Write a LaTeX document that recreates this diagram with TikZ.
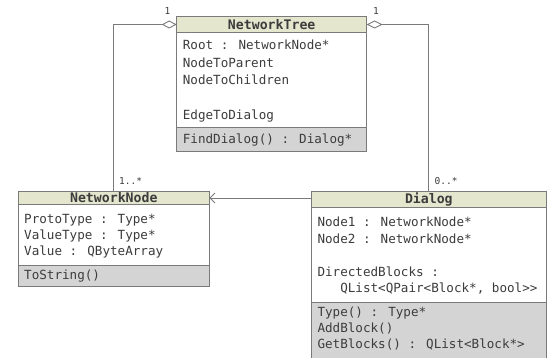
\documentclass[tikz,border=0pt]{standalone}
\usepackage{fontspec}
\newfontfamily\umlfont{DejaVu Sans Mono}
\usetikzlibrary{arrows.meta}
\definecolor{titlefill}{HTML}{E4E6CE}
\definecolor{opfill}{HTML}{D4D4D4}
\definecolor{framecol}{HTML}{7A7A7A}
\definecolor{inkcol}{HTML}{3C3C3C}
\tikzset{
  band/.style={draw=framecol, line width=0.9pt, inner sep=0pt, outer sep=0pt, anchor=north west},
  titleband/.style={band, fill=titlefill, text=inkcol,
    font=\umlfont\bfseries\fontsize{13.2}{14}\selectfont},
  attrband/.style={band, fill=white},
  opband/.style={band, fill=opfill},
  member/.style={anchor=base west, inner sep=0pt, text=inkcol,
    font=\umlfont\fontsize{12.6}{15}\selectfont},
  mult/.style={inner sep=0pt, text=inkcol, font=\umlfont\fontsize{9.5}{10}\selectfont},
  link/.style={draw=framecol, line width=0.9pt},
}
\begin{document}
\begin{tikzpicture}[x=1pt,y=-1pt]
\useasboundingbox[fill=white] (0,0) rectangle (548,358);

% ---- class NetworkTree
\node[titleband, minimum width=190pt, minimum height=15.6pt] (ntTitle) at (176.7,16.7) {NetworkTree};
\node[attrband, minimum width=190pt, minimum height=95.4pt] (ntAttr) at (ntTitle.south west) {};
\node[opband, minimum width=190pt, minimum height=24pt] (ntOps) at (ntAttr.south west) {};
\node[member] (ntA1) at (182.7,50) {Root : NetworkNode*};
\node[member] (ntA2) at (182.7,67.5) {NodeToParent};
\node[member] (ntA3) at (182.7,85) {NodeToChildren};
\node[member] (ntA4) at (182.7,120) {EdgeToDialog};
\node[member] (ntO1) at (182.7,143.5) {FindDialog() : Dialog*};

% ---- class NetworkNode
\node[titleband, minimum width=191pt, minimum height=12.6pt] (nnTitle) at (18.3,191.7) {NetworkNode};
\node[attrband, minimum width=191pt, minimum height=61.4pt] (nnAttr) at (nnTitle.south west) {};
\node[opband, minimum width=191pt, minimum height=21pt] (nnOps) at (nnAttr.south west) {};
\node[member] (nnA1) at (24,223) {ProtoType : Type*};
\node[member] (nnA2) at (24,239) {ValueType : Type*};
\node[member] (nnA3) at (24,255) {Value : QByteArray};
\node[member] (nnO1) at (24,279) {ToString()};

% ---- class Dialog
\node[titleband, minimum width=235.7pt, minimum height=15.3pt] (dlTitle) at (311,191.7) {Dialog};
\node[attrband, minimum width=235.7pt, minimum height=95pt] (dlAttr) at (dlTitle.south west) {};
\node[opband, minimum width=235.7pt, minimum height=56pt] (dlOps) at (dlAttr.south west) {};
\node[member] (dlA1) at (317.3,226.5) {Node1 : NetworkNode*};
\node[member] (dlA2) at (317.3,243) {Node2 : NetworkNode*};
\node[member] (dlA3) at (317.3,276) {DirectedBlocks :};
\node[member] (dlA4) at (317.3,292.5) {\phantom{DDD}QList<QPair<Block*, bool>>};
\node[member] (dlO1) at (317.3,316.5) {Type() : Type*};
\node[member] (dlO2) at (317.3,332.5) {AddBlock()};
\node[member] (dlO3) at (317.3,348.5) {GetBlocks() : QList<Block*>};

% ---- associations
\draw[link, {Diamond[open, length=15pt, width=8pt, line width=0.9pt]}-]
  (ntTitle.west) -| (nnTitle.north);
\draw[link, {Diamond[open, length=16pt, width=8pt, line width=0.9pt]}-]
  (ntTitle.east) -| (dlTitle.north);
\draw[link, -{Straight Barb[length=5pt, width=10pt, line width=0.9pt]}]
  (dlTitle.west |- nnTitle.east) -- (nnTitle.east);

% ---- multiplicities
\node[mult] (mulTreeL) at (167.5,11.5) {1};
\node[mult] (mulTreeR) at (376,11.5) {1};
\node[mult, anchor=west] (mulNode) at (119,181) {1..*};
\node[mult, anchor=west] (mulDialog) at (434.5,181) {0..*};
\end{tikzpicture}
\end{document}
